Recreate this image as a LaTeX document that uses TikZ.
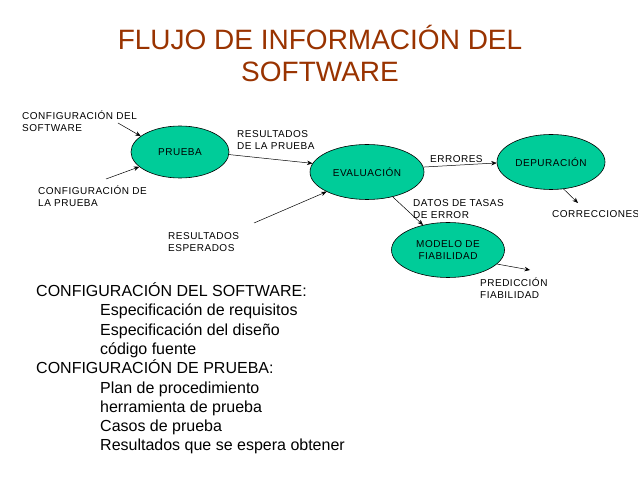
\documentclass[tikz,border=0pt]{standalone}
\usepackage{fontspec}
\setmainfont{Liberation Sans}
\newfontfamily\spacedfont{Liberation Sans}[LetterSpace=5]
\usetikzlibrary{arrows.meta,shapes.geometric}
\definecolor{titlebrown}{RGB}{153,51,0}
\definecolor{bubble}{RGB}{0,204,153}

\begin{document}
\begin{tikzpicture}[x=1pt,y=-1pt,
  stage/.style={ellipse, draw=black, line width=0.6pt, fill=bubble,
    font=\spacedfont\fontsize{10}{12}\selectfont, align=center, inner sep=0},
  flow/.style={-{Stealth[length=5.5pt,width=4.5pt]}, line width=0.5pt},
  lbl/.style={font=\spacedfont\fontsize{10}{12.5}\selectfont, align=left, inner sep=0, anchor=base west},
]
\useasboundingbox[fill=white] (0,0) rectangle (638,478);

% title (base anchor sits on the last line)
\node[font=\fontsize{28}{32}\selectfont, text=titlebrown, align=center, anchor=base, inner sep=0]
  (title) at (320,82) {FLUJO DE INFORMACIÓN DEL\\SOFTWARE};

% process bubbles
\node[stage, minimum width=98pt, minimum height=52pt] (prueba) at (180,152) {PRUEBA};
\node[stage, minimum width=114pt, minimum height=55pt] (eval) at (367,172) {EVALUACIÓN};
\node[stage, minimum width=108pt, minimum height=55pt] (depu) at (551,162) {DEPURACIÓN};
\node[stage, minimum width=113pt, minimum height=55pt] (modelo) at (448,250) {MODELO DE\\FIABILIDAD};

% labels (positions give the baseline of the last line)
\node[lbl] (lsw) at (22,132) {CONFIGURACIÓN DEL\\SOFTWARE};
\node[lbl] (lpr) at (38,207) {CONFIGURACIÓN DE\\LA PRUEBA};
\node[lbl] (lres) at (237,150) {RESULTADOS\\DE LA PRUEBA};
\node[lbl] (lesp) at (168,252) {RESULTADOS\\ESPERADOS};
\node[lbl] (lerr) at (430,163) {ERRORES};
\node[lbl] (ldat) at (413,219) {DATOS DE TASAS\\DE ERROR};
\node[lbl] (lcor) at (552,218) {CORRECCIONES};
\node[lbl] (lpre) at (480,299) {PREDICCIÓN\\FIABILIDAD};

% free ends of the connectors
\coordinate (inSw) at (118,123);
\coordinate (inPr) at (106,179);
\coordinate (inEsp) at (254,223);
\coordinate (outCor) at (578,203);
\coordinate (outPre) at (530,270);

% connectors
\draw[flow] (inSw) -- (prueba.158);
\draw[flow] (inPr) -- (prueba.200);
\draw[flow] (prueba.-3) -- (eval.171);
\draw[flow] (inEsp) -- (eval.206);
\draw[flow] (eval.5) -- (depu.181);
\draw[flow] (eval.-44) -- (modelo.135);
\draw[flow] (depu.-65) -- (outCor);
\draw[flow] (modelo.-16) -- (outPre);

% configuration lists
\node[font=\fontsize{16}{19.3}\selectfont, align=left, anchor=base west, inner sep=0] (lists) at (36,451) {%
CONFIGURACIÓN DEL SOFTWARE:\\
\hspace*{64pt}Especificación de requisitos\\
\hspace*{64pt}Especificación del diseño\\
\hspace*{64pt}código fuente\\
CONFIGURACIÓN DE PRUEBA:\\
\hspace*{64pt}Plan de procedimiento\\
\hspace*{64pt}herramienta de prueba\\
\hspace*{64pt}Casos de prueba\\
\hspace*{64pt}Resultados que se espera obtener};
\end{tikzpicture}
\end{document}
